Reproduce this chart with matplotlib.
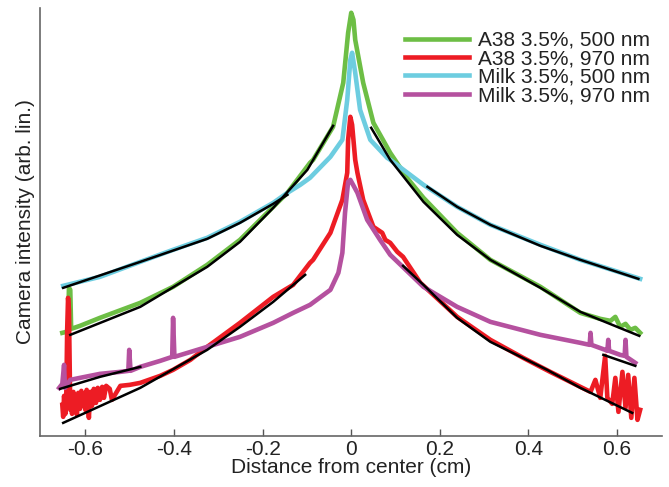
import numpy as np
import matplotlib
matplotlib.use("Agg")
import matplotlib.pyplot as plt

plt.rcParams['font.family'] = ['Liberation Sans', 'DejaVu Sans']

# distance from center (cm) and camera intensity (arb. lin.)
greenX = [-0.652, -0.643, -0.639, -0.637, -0.634, -0.632, -0.612, -0.567, -0.476, -0.402, -0.325,
          -0.251, -0.176, -0.144, -0.093, -0.086, -0.041, -0.018, -0.007, 0.0, 0.005, 0.009,
          0.027, 0.050, 0.088, 0.126, 0.163, 0.239, 0.314, 0.427, 0.517, 0.562, 0.585, 0.596,
          0.607, 0.619, 0.630, 0.641, 0.652]
greenY = [103, 104, 105, 148, 146, 107, 110, 118, 133, 149, 171,
          196, 229, 243, 273, 276, 309, 353, 403, 423, 416, 396,
          353, 313, 283, 258, 238, 203, 176, 149, 123, 117, 115, 119,
          109, 112, 106, 108, 103]

redX = [-0.652, -0.650, -0.648, -0.645, -0.643, -0.641, -0.639, -0.637, -0.634, -0.632, -0.630,
        -0.627, -0.625, -0.622, -0.619, -0.616, -0.612, -0.609, -0.606, -0.603, -0.600, -0.597,
        -0.594, -0.592, -0.589, -0.585, -0.581, -0.576, -0.572, -0.567, -0.562, -0.558, -0.553,
        -0.545, -0.540, -0.521, -0.500, -0.476, -0.431,
        -0.402, -0.363, -0.325, -0.251, -0.176, -0.131, -0.093, -0.086, -0.047, -0.020, -0.009,
        -0.007, -0.002, 0.002, 0.009, 0.014, 0.027, 0.050, 0.070, 0.077, 0.088, 0.104, 0.117,
        0.156, 0.239, 0.314, 0.388, 0.449, 0.517, 0.540, 0.551, 0.562, 0.573, 0.578, 0.589,
        0.596, 0.603, 0.612, 0.619, 0.625, 0.632, 0.639, 0.646, 0.652]
redY = [31, 19, 40, 22, 41, 106, 138, 126, 26, 40, 22,
        44, 24, 40, 21, 43, 27, 45, 30, 42, 26, 46,
        31, 18, 44, 30, 47, 33, 48, 36, 49, 38, 50,
        47, 36, 50, 51, 53, 60,
        66, 76, 89, 113, 139, 151, 173, 176, 203, 236, 263,
        296, 319, 311, 276, 263, 236, 209, 203, 196, 193, 184, 179,
        153, 119, 96, 78, 64, 49, 44, 56, 38, 80, 38, 32,
        58, 24, 64, 28, 61, 18, 58, 16, 26]

cyanX = [-0.650, -0.567, -0.476, -0.402, -0.325, -0.251, -0.176, -0.144, -0.115, -0.093, -0.047,
         -0.020, -0.009, -0.002, 0.002, 0.009, 0.020, 0.043, 0.081, 0.088, 0.163, 0.239, 0.314,
         0.427, 0.517, 0.652]
cyanY = [150, 159, 174, 186, 198, 214, 233, 243, 251, 258, 279,
         296, 336, 376, 383, 363, 326, 296, 278, 276, 251, 229, 211,
         191, 176, 157]

magentaX = [-0.659, -0.652, -0.648, -0.646, -0.634, -0.612, -0.567, -0.521, -0.503, -0.501, -0.498,
            -0.476, -0.431, -0.404, -0.402, -0.399, -0.325, -0.251, -0.176, -0.131, -0.093, -0.047,
            -0.029, -0.020, -0.014, -0.007, -0.002, 0.014, 0.036, 0.065, 0.088, 0.163, 0.239,
            0.314, 0.427, 0.517, 0.538, 0.540, 0.542, 0.573, 0.578, 0.580, 0.582, 0.607, 0.617,
            0.619, 0.621, 0.641]
magentaY = [48, 52, 71, 48, 56, 58, 62, 64, 65, 86, 65,
            69, 75, 79, 118, 79, 89, 99, 113, 123, 131, 146,
            163, 183, 223, 254, 256, 243, 216, 196, 181, 149, 129,
            114, 101, 93, 91, 103, 91, 86, 85, 96, 85, 81, 80,
            96, 79, 73]

# black fitted curves
fitGreenLX = [-0.634, -0.476, -0.325, -0.251, -0.176, -0.099, -0.041]
fitGreenLY = [101, 129, 169, 194, 228, 266, 310]
fitGreenRX = [0.045, 0.088, 0.163, 0.239, 0.314, 0.427, 0.517, 0.650]
fitGreenRY = [308, 276, 234, 201, 176, 148, 124, 100]
fitCyanLX = [-0.650, -0.476, -0.325, -0.251, -0.176, -0.144]
fitCyanLY = [148, 174, 197, 213, 232, 241]
fitCyanRX = [0.172, 0.239, 0.314, 0.427, 0.517, 0.648]
fitCyanRY = [249, 229, 211, 190, 176, 157]
fitRedLX = [-0.650, -0.476, -0.325, -0.251, -0.176, -0.104]
fitRedLY = [13, 48, 86, 109, 134, 161]
fitRedRX = [0.117, 0.163, 0.239, 0.314, 0.442, 0.517, 0.634]
fitRedRY = [170, 151, 118, 94, 66, 48, 23]
fitMagLX = [-0.657, -0.567, -0.476]
fitMagLY = [47, 59, 69]
fitMagRX = [0.569, 0.641]
fitMagRY = [81, 70]

labels = ['A38 3.5%, 500 nm', 'A38 3.5%, 970 nm', 'Milk 3.5%, 500 nm', 'Milk 3.5%, 970 nm']
colors = ['#6dbe45', '#ed1c24', '#6dcde0', '#b5519f']
xticks = [-0.6, -0.4, -0.2, 0, 0.2, 0.4, 0.6]

fig = plt.figure(figsize=(6.69, 4.87), dpi=100)
ax = fig.add_axes([0.060, 0.105, 0.930, 0.879])

ax.plot(greenX, greenY, color=colors[0], lw=3.3, label=labels[0])
ax.plot(redX, redY, color=colors[1], lw=3.3, label=labels[1])
ax.plot(cyanX, cyanY, color=colors[2], lw=3.3, label=labels[2])
ax.plot(magentaX, magentaY, color=colors[3], lw=3.3, label=labels[3])

for fx, fy in [(fitGreenLX, fitGreenLY), (fitGreenRX, fitGreenRY), (fitCyanLX, fitCyanLY),
               (fitCyanRX, fitCyanRY), (fitRedLX, fitRedLY), (fitRedRX, fitRedRY),
               (fitMagLX, fitMagLY), (fitMagRX, fitMagRY)]:
    ax.plot(fx, fy, color='black', lw=1.8)

ax.set_xlim(-0.702, 0.702)
ax.set_ylim(0, 428)
ax.set_xticks(xticks)
ax.set_xticklabels(['-0.6', '-0.4', '-0.2', '0', '0.2', '0.4', '0.6'])
ax.set_yticks([])
ax.tick_params(axis='x', direction='in', length=5, width=1, color='#555555',
               labelsize=15, labelcolor='#222222', pad=3)
for s in ['top', 'right']:
    ax.spines[s].set_visible(False)
for s in ['left', 'bottom']:
    ax.spines[s].set_color('#666666')
    ax.spines[s].set_linewidth(1.2)

ax.set_xlabel('Distance from center (cm)', fontsize=15, color='#222222', labelpad=-1)
ax.set_ylabel('Camera intensity (arb. lin.)', fontsize=15, color='#222222', labelpad=4)

leg = ax.legend(loc='upper right', bbox_to_anchor=(1.0, 0.975), frameon=False, fontsize=15,
                handlelength=3.1, handletextpad=0.4, labelspacing=-0.03, borderaxespad=0.2)
for line in leg.get_lines():
    line.set_linewidth(3.3)
for t in leg.get_texts():
    t.set_color('#222222')

fig.savefig('out.png', dpi=100)
